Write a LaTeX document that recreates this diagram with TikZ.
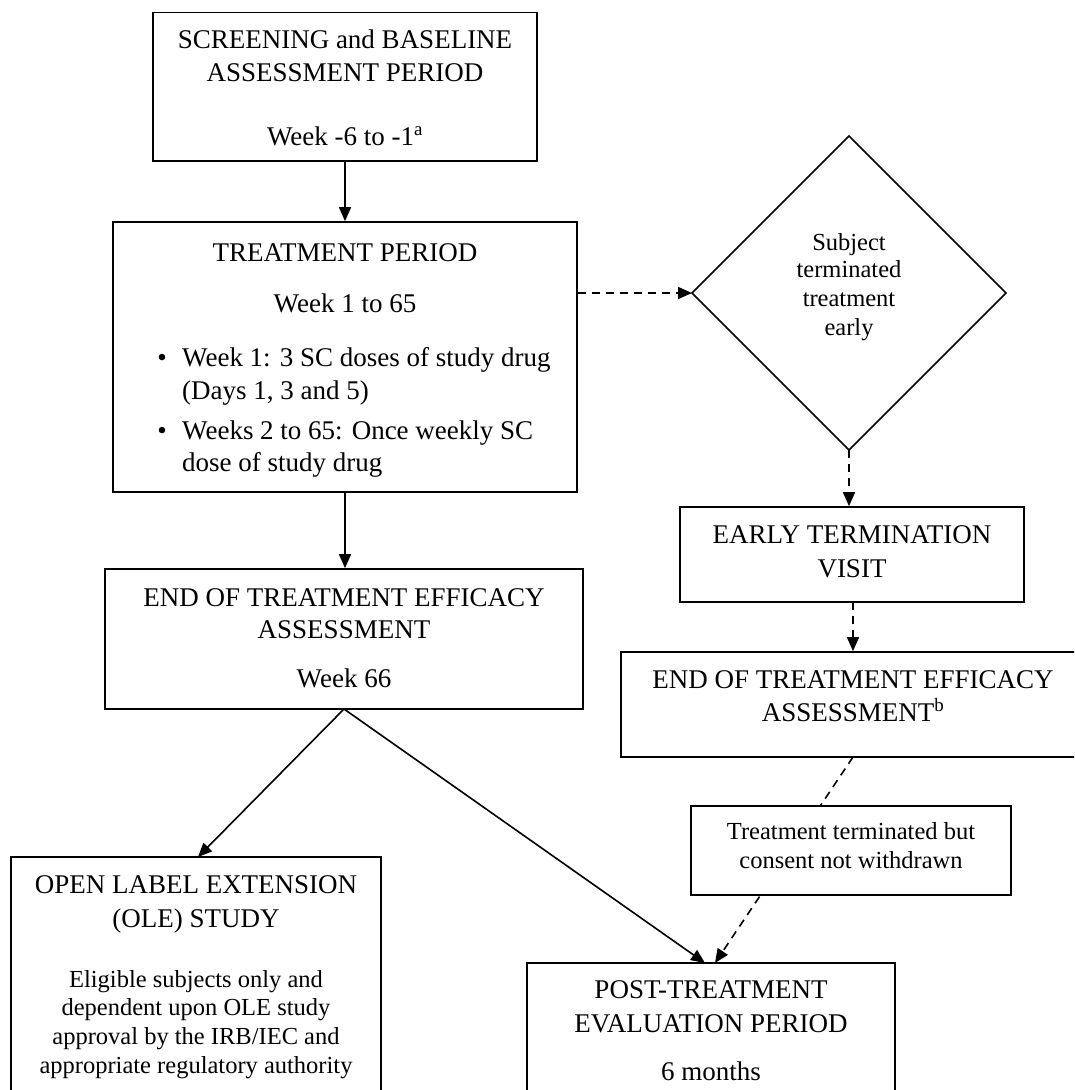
\documentclass[tikz,border=0pt]{standalone}
\usepackage{fontspec}
\setmainfont{Liberation Serif}
\usetikzlibrary{arrows.meta}
\tikzset{
  box/.style={draw=black, line width=1.7pt, fill=white, rectangle, inner sep=0pt},
  big/.style={font=\fontsize{27}{34}\selectfont, align=center, inner sep=0pt, anchor=base},
  small/.style={font=\fontsize{24.5}{29.5}\selectfont, align=center, inner sep=0pt, anchor=base},
  conn/.style={line width=1.6pt, -{Triangle[length=14pt,width=12pt]}},
  dconn/.style={line width=1.6pt, dash pattern=on 8pt off 6pt, -{Triangle[length=14pt,width=12pt]}}
}
\begin{document}
\begin{tikzpicture}[x=1pt,y=-1pt]
\useasboundingbox (0,0) rectangle (1074,1090);
\clip (0,0) rectangle (1074,1090);
\fill[white] (0,0) rectangle (1074,1090);

% boxes
\node[box, minimum width=384pt, minimum height=148.5pt] (b1) at (345,86.75) {};
\node[box, minimum width=464pt, minimum height=270pt] (b2) at (345,357) {};
\node[box, minimum width=478pt, minimum height=140pt] (b3) at (344,639) {};
\node[box, minimum width=344pt, minimum height=95pt] (et) at (852,554.5) {};
\node[box, minimum width=480pt, minimum height=105pt] (eotb) at (861,704.5) {};
\node[box, minimum width=370pt, minimum height=260pt] (ole) at (196,987) {};
\node[box, minimum width=368pt, minimum height=200pt] (post) at (711,1063) {};

% diamond
\coordinate (dT) at (849,136);
\coordinate (dR) at (1006,293);
\coordinate (dB) at (849,450);
\coordinate (dL) at (692,293);
\draw[line width=1.7pt, line join=miter] (dT) -- (dR) -- (dB) -- (dL) -- cycle;

% connectors
\draw[conn] (b1.south) -- (b1.south |- b2.north);
\draw[conn] (b2.south) -- (b2.south |- b3.north);
\draw[dconn] (b2.east |- dL) -- (dL);
\draw[dconn] (dB) -- (dB |- et.north);
\coordinate (etx) at (853,602);
\draw[dconn] (etx) -- (etx |- eotb.north);
\coordinate (b3s) at (344,709);
\coordinate (oleTip) at (198,857);
\coordinate (postTip) at (705,963);
\coordinate (postTipD) at (715,963);
\coordinate (eotbS) at (853,757);
\draw[conn] (b3s) -- (oleTip);
\draw[conn] (b3s) -- (postTip);
\draw[dconn] (eotbS) -- (postTipD);

% consent box on top of dashed line
\node[box, minimum width=320pt, minimum height=89pt] (cons) at (851,850.5) {};

% texts
\node[big] (t1a) at (345,48) {SCREENING and BASELINE};
\node[big] (t1b) at (345,81.5) {ASSESSMENT PERIOD};
\node[big] (t1c) at (345,145) {Week -6 to -1\textsuperscript{a}};

\node[big] (t2a) at (345,261) {TREATMENT PERIOD};
\node[big] (t2b) at (345,312.5) {Week 1 to 65};
\node[big, anchor=base] (bu1) at (162,366) {\textbullet};
\node[big, anchor=base west] (t2c) at (182,366) {Week 1: 3 SC doses of study drug};
\node[big, anchor=base west] (t2d) at (182,399) {(Days 1, 3 and 5)};
\node[big, anchor=base] (bu2) at (162,439) {\textbullet};
\node[big, anchor=base west] (t2e) at (182,439) {Weeks 2 to 65: Once weekly SC};
\node[big, anchor=base west] (t2f) at (182,471) {dose of study drug};

\node[big] (t3a) at (344,606) {END OF TREATMENT EFFICACY};
\node[big] (t3b) at (344,638.5) {ASSESSMENT};
\node[big] (t3c) at (344,687) {Week 66};

\node[small] (d1) at (849,250) {Subject};
\node[small] (d2) at (849,277) {terminated};
\node[small] (d3) at (849,306) {treatment};
\node[small] (d4) at (849,335.5) {early};

\node[big] (e1) at (852,543) {EARLY TERMINATION};
\node[big] (e2) at (852,577) {VISIT};

\node[big] (f1) at (853,688) {END OF TREATMENT EFFICACY};
\node[big] (f2) at (853,721) {ASSESSMENT\textsuperscript{b}};

\node[small] (c1) at (851,839) {Treatment terminated but};
\node[small] (c2) at (851,868) {consent not withdrawn};

\node[big] (o1) at (196,893) {OPEN LABEL EXTENSION};
\node[big] (o2) at (196,927) {(OLE) STUDY};
\node[small] (o3) at (196,987) {Eligible subjects only and};
\node[small] (o4) at (196,1015.5) {dependent upon OLE study};
\node[small] (o5) at (196,1044) {approval by the IRB/IEC and};
\node[small] (o6) at (196,1073) {appropriate regulatory authority};

\node[big] (p1) at (711,998) {POST-TREATMENT};
\node[big] (p2) at (711,1032) {EVALUATION PERIOD};
\node[big] (p3) at (711,1080) {6 months};
\end{tikzpicture}
\end{document}
